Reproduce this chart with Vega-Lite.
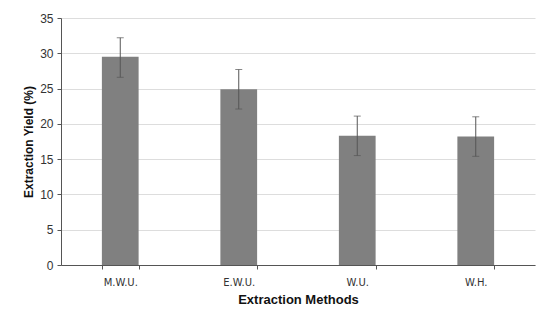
{
  "$schema": "https://vega.github.io/schema/vega-lite/v6.json",
  "width": 474,
  "height": 247,
  "autosize": {"type": "none"},
  "padding": {"left": 61, "top": 18, "right": 15, "bottom": 59},
  "background": "white",
  "config": {
    "view": {"stroke": null},
    "axisY": {
      "gridColor": "#dddddd", "domainColor": "#555555", "tickColor": "#555555", "tickSize": 4,
      "labelFont": "Liberation Sans", "labelFontSize": 12, "labelColor": "#333333", "labelPadding": 4,
      "titleFont": "Liberation Sans", "titleFontSize": 12, "titleFontWeight": "bold", "titleColor": "#111111",
      "titlePadding": 4, "labelOverlap": false
    }
  },
  "data": {"values": [
    {"method": "M.W.U.", "yield": 29.5, "upper": 32.2, "lower": 26.6},
    {"method": "E.W.U.", "yield": 24.9, "upper": 27.7, "lower": 22.1},
    {"method": "W.U.", "yield": 18.3, "upper": 21.1, "lower": 15.5},
    {"method": "W.H.", "yield": 18.2, "upper": 21.0, "lower": 15.4}
  ]},
  "encoding": {
    "x": {
      "field": "method", "type": "nominal", "sort": null,
      "scale": {"paddingInner": 0.69, "paddingOuter": 0.345},
      "axis": {
        "title": "Extraction Methods", "labelAngle": 0,
        "tickBand": "extent", "domainColor": "#555555", "tickColor": "#555555",
        "labelFont": "DejaVu Sans", "labelFontSize": 10, "labelColor": "#333333", "labelPadding": 8,
        "titleFont": "Liberation Sans", "titleFontSize": 13, "titleFontWeight": "bold", "titleColor": "#111111",
        "titlePadding": 6, "tickSize": 4
      }
    }
  },
  "layer": [
    {
      "mark": {"type": "bar", "color": "#808080"},
      "encoding": {
        "y": {
          "field": "yield", "type": "quantitative",
          "scale": {"domain": [0, 35]},
          "axis": {"title": "Extraction Yield (%)", "tickCount": 8}
        }
      }
    },
    {
      "mark": {"type": "rule", "color": "#555555", "strokeWidth": 1},
      "encoding": {
        "y": {"field": "lower", "type": "quantitative", "axis": {"title": "Extraction Yield (%)", "tickCount": 8}},
        "y2": {"field": "upper"}
      }
    },
    {
      "mark": {"type": "tick", "color": "#555555", "size": 7, "thickness": 1},
      "encoding": {"y": {"field": "upper", "type": "quantitative", "axis": {"title": "Extraction Yield (%)", "tickCount": 8}}}
    },
    {
      "mark": {"type": "tick", "color": "#555555", "size": 7, "thickness": 1},
      "encoding": {"y": {"field": "lower", "type": "quantitative", "axis": {"title": "Extraction Yield (%)", "tickCount": 8}}}
    }
  ]
}
